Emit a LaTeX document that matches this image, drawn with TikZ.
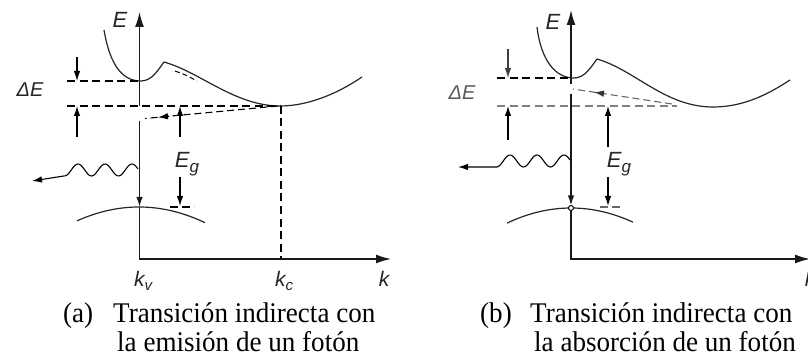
\documentclass[tikz,border=0pt]{standalone}
\usepackage{fontspec}
\setmainfont{Liberation Serif}
\newfontfamily\capfont[FakeStretch=0.95]{Liberation Serif}
\newfontfamily\sfl{Liberation Sans}
\usetikzlibrary{arrows.meta}
\begin{document}
\begin{tikzpicture}[x=1pt,y=-1pt,
  axis/.style={line width=1.5pt, draw=black!90},
  band/.style={line width=1.2pt, draw=black!85},
  dsh/.style={line width=1.3pt, dash pattern=on 8pt off 4.5pt},
  tip/.style={-{Latex[length=10pt,width=6.5pt]}},
  axtip/.style={-{Latex[length=15pt,width=9pt]}},
  dim/.style={line width=1.2pt, -{Latex[length=10pt,width=6.5pt]}},
  lab/.style={inner sep=0pt, font=\sfl\itshape\fontsize{21}{21}\selectfont, text=black!85},
  captxt/.style={inner sep=0pt, anchor=base west, font=\capfont\fontsize{28.5}{30}\selectfont},
]
\useasboundingbox (0,0) rectangle (808,358);

% ================= panel (a) =================
\coordinate (aO) at (139.5,259);
\coordinate (aEtop) at (139.5,12);
\coordinate (aKend) at (391,259);
\coordinate (aGap1) at (139.5,106);
\coordinate (aGap2) at (139.5,121);
\coordinate (aVtop) at (139.5,207);
\draw[axis,axtip] (aGap1) -- (aEtop);
\draw[axis,dim,line width=1.5pt] (aGap2) -- (aVtop);
\draw[axis,axtip] (aVtop) -- (aO) -- (aKend);

% conduction band
\draw[band] (104,30) .. controls (110,65) and (122,81) .. (141,81)
  .. controls (152,81) and (158,70) .. (164,62)
  .. controls (200,72) and (235,106) .. (280,106)
  .. controls (310,106) and (340,92) .. (362,77);
% valence band
\draw[band] plot[domain=77:205,samples=50] (\x,{207+0.0036*(\x-139)^2});

% dashed levels
\coordinate (aDE1) at (67,81);
\coordinate (aCmin1) at (139.5,81);
\coordinate (aDE2) at (67,106);
\coordinate (aKc) at (281,106);
\coordinate (aKcBot) at (281,259);
\draw[dsh] (aDE1) -- (aCmin1);
\draw[dsh] (aDE2) -- (aKc);
\draw[dsh] (aKc) -- (aKcBot);
\draw[dsh,line width=1pt,dash pattern=on 5pt off 3pt] (175,71) .. controls (186,75) .. (197,81);

% Delta E arrows
\coordinate (aDa1) at (77,57); \coordinate (aDa2) at (77,81);
\coordinate (aDb1) at (77,137); \coordinate (aDb2) at (77,106);
\draw[dim] (aDa1) -- (aDa2);
\draw[dim] (aDb1) -- (aDb2);
% Eg arrows
\coordinate (aGa1) at (180,137); \coordinate (aGa2) at (180,106);
\coordinate (aGb1) at (180,177); \coordinate (aGb2) at (180,206);
\draw[dim] (aGa1) -- (aGa2);
\draw[dim] (aGb1) -- (aGb2);
\draw[line width=1pt,dash pattern=on 8pt off 4pt] (170,207) -- (194,207);

% transition dashed arrow
\coordinate (aT1) at (278,106); \coordinate (aT2) at (145,118.5);
\draw[dsh,line width=1.1pt,dash pattern=on 7pt off 4pt] (aT1) -- (aT2);
\draw[tip,line width=1.1pt] (169,116.2) -- (158,117.3);

% photon
\draw[line width=1.1pt,{Latex[length=10pt,width=6.5pt]}-] (32,181) -- plot[domain=64:138,samples=60,smooth] (\x,{170-6*cos(13.333*(\x-105))});

% labels
\node[lab,font=\sfl\itshape\fontsize{22}{22}\selectfont] (aE) at (120,20) {E};
\node[lab,font=\sfl\itshape\fontsize{20}{20}\selectfont] (aDE) at (30,90) {ΔE};
\node[lab,font=\sfl\itshape\fontsize{22}{22}\selectfont] (aEg) at (187,164) {E\raisebox{-5pt}{\fontsize{17}{17}\selectfont g}};
\node[lab] (akv) at (143,281) {k\raisebox{-4pt}{\fontsize{15}{15}\selectfont v}};
\node[lab] (akc) at (284,281) {k\raisebox{-4pt}{\fontsize{15}{15}\selectfont c}};
\node[lab] (ak) at (384,279) {k};

% ================= panel (b) =================
\coordinate (bO) at (571,259);
\coordinate (bEtop) at (571,10);
\coordinate (bKend) at (810,259);
\coordinate (bGap1) at (571,84);
\coordinate (bGap2) at (571,94);
\coordinate (bVtop) at (571,205.5);
\coordinate (bVbot) at (571,210.5);
\draw[axis,axtip] (bGap1) -- (bEtop);
\draw[axis,dim,line width=1.5pt] (bGap2) -- (bVtop);
\draw[axis,axtip] (bVbot) -- (bO) -- (bKend);

\draw[band] (537,27) .. controls (541,60) and (555,78) .. (574,78)
  .. controls (585,78) and (591,67) .. (597,59)
  .. controls (635,70) and (665,107) .. (713,107)
  .. controls (745,107) and (770,93) .. (790,80);
\draw[band] plot[domain=507:633,samples=50] (\x,{208+0.0037*(\x-571)^2});
\node[circle,draw,line width=1pt,fill=white,inner sep=0pt,minimum size=5pt] (bHole) at (571,208) {};

\coordinate (bDE1) at (497,78); \coordinate (bCmin) at (571,78);
\coordinate (bDE2) at (497,106); \coordinate (bL2) at (677,106);
\draw[dsh] (bDE1) -- (bCmin);
\draw[dsh,draw=black!50] (bDE2) -- (bL2);

\coordinate (bDa1) at (508,49); \coordinate (bDa2) at (508,78);
\coordinate (bDb1) at (508,140); \coordinate (bDb2) at (508,106);
\draw[dim,draw=black!75] (bDa1) -- (bDa2);
\draw[dim] (bDb1) -- (bDb2);
\coordinate (bGa1) at (608,147); \coordinate (bGa2) at (608,106);
\coordinate (bGb1) at (608,177); \coordinate (bGb2) at (608,206);
\draw[dim] (bGa1) -- (bGa2);
\draw[dim] (bGb1) -- (bGb2);
\draw[line width=1pt,dash pattern=on 8pt off 4pt,draw=black!60] (600,207) -- (621,207);

\coordinate (bT1) at (672,104); \coordinate (bT2) at (573,89);
\draw[dsh,line width=1.1pt,draw=black!60,dash pattern=on 7pt off 4pt] (bT1) -- (bT2);
\draw[tip,line width=1.1pt,draw=black!80,fill=black!80] (604,93.7) -- (594,92.2);

\draw[line width=1.1pt,{Latex[length=10pt,width=6.5pt]}-] (458,167) -- plot[domain=497:570,samples=60,smooth] (\x,{161-6*cos(13.333*(\x-510))});

\node[lab,font=\sfl\itshape\fontsize{22}{22}\selectfont] (bE) at (553,22) {E};
\node[lab,font=\sfl\itshape\fontsize{20}{20}\selectfont,text=black!65] (bDE) at (462,93) {ΔE};
\node[lab,font=\sfl\itshape\fontsize{22}{22}\selectfont] (bEg) at (619,164) {E\raisebox{-5pt}{\fontsize{17}{17}\selectfont g}};
\node[lab] (bk) at (810,279) {k};

% ================= captions =================
\node[captxt] (ca1) at (63,322) {(a)};
\node[captxt] (ca2) at (113,322) {Transición indirecta con};
\node[captxt] (ca3) at (117,351) {la emisión de un fotón};
\node[captxt] (cb1) at (480,322) {(b)};
\node[captxt] (cb2) at (530,322) {Transición indirecta con};
\node[captxt] (cb3) at (534,351) {la absorción de un fotón};
\end{tikzpicture}
\end{document}
